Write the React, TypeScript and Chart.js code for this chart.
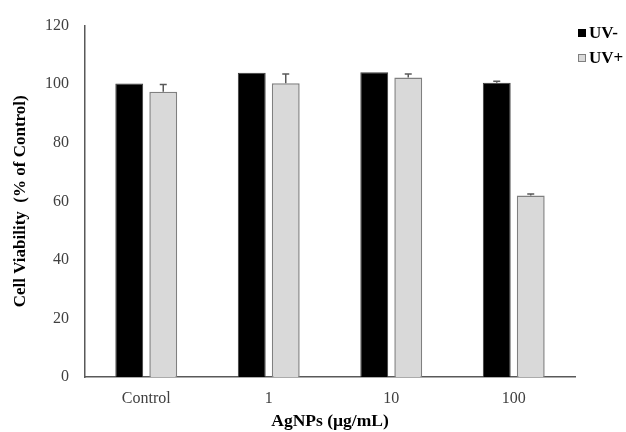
import React, { useEffect, useRef } from "react";
import { Chart, registerables } from "chart.js";

Chart.register(...registerables);

const categories = ["Control", "1", "10", "100"];
const uvMinus = [100.2, 103.9, 104.1, 100.5];
const uvMinusErr = [0, 0, 0, 0.5];
const uvPlus = [97.4, 100.3, 102.3, 62.0];
const uvPlusErr = [2.5, 3.2, 1.2, 0.5];
const yTicks = [0, 20, 40, 60, 80, 100, 120];

const errorBars = {
  id: "errorBars",
  afterDatasetsDraw(chart: any) {
    const ctx = chart.ctx;
    const y = chart.scales.y;
    chart.data.datasets.forEach((ds: any, di: number) => {
      const meta = chart.getDatasetMeta(di);
      const errs = ds.errors || [];
      meta.data.forEach((el: any, i: number) => {
        const e = errs[i];
        if (!e) return;
        const v = ds.data[i];
        const yTop = y.getPixelForValue(v + e);
        const yBase = y.getPixelForValue(v);
        ctx.save();
        ctx.strokeStyle = "#595959";
        ctx.lineWidth = 1.5;
        ctx.beginPath();
        ctx.moveTo(el.x, yBase);
        ctx.lineTo(el.x, yTop);
        ctx.moveTo(el.x - 3.5, yTop);
        ctx.lineTo(el.x + 3.5, yTop);
        ctx.stroke();
        ctx.restore();
      });
    });
  },
};

const customLegend = {
  id: "customLegend",
  afterDraw(chart: any) {
    const ctx = chart.ctx;
    const items = [
      { label: "UV-", fill: "#000000", stroke: "#000000", y: 33 },
      { label: "UV+", fill: "#d9d9d9", stroke: "#7f7f7f", y: 58 },
    ];
    ctx.save();
    ctx.font = "bold 17px 'Liberation Serif', 'Times New Roman', serif";
    ctx.textBaseline = "middle";
    items.forEach((it) => {
      ctx.fillStyle = it.fill;
      ctx.fillRect(578, it.y - 4, 8, 8);
      ctx.strokeStyle = it.stroke;
      ctx.lineWidth = 1;
      ctx.strokeRect(578.5, it.y - 3.5, 7, 7);
      ctx.fillStyle = "#000000";
      ctx.fillText(it.label, 589, it.y + 1);
    });
    ctx.restore();
  },
};

export default function App() {
  const ref = useRef<HTMLCanvasElement>(null);
  useEffect(() => {
    if (!ref.current) return;
    const serif = "'Liberation Serif', 'Times New Roman', serif";
    const chart = new Chart(ref.current, {
      type: "bar",
      data: {
        labels: categories,
        datasets: [
          {
            label: "UV-",
            data: uvMinus,
            errors: uvMinusErr,
            backgroundColor: "#000000",
            borderColor: "#3a3a3a",
            borderWidth: 1,
            categoryPercentage: 0.555,
            barPercentage: 0.82,
          } as any,
          {
            label: "UV+",
            data: uvPlus,
            errors: uvPlusErr,
            backgroundColor: "#d9d9d9",
            borderColor: "#808080",
            borderWidth: 1.5,
            categoryPercentage: 0.555,
            barPercentage: 0.82,
          } as any,
        ],
      },
      options: {
        animation: false,
        responsive: false,
        devicePixelRatio: 1,
        layout: { padding: { left: 0, right: 51, top: 22, bottom: 0 } },
        plugins: {
          legend: { display: false },
          tooltip: { enabled: false },
        },
        scales: {
          x: {
            grid: { display: false, drawTicks: false },
            border: { color: "#595959", width: 1.5 },
            ticks: {
              color: "#404040",
              font: { family: serif, size: 16 },
              padding: 12,
            },
            title: {
              display: true,
              text: "AgNPs (µg/mL)",
              color: "#000000",
              font: { family: serif, size: 17.5, weight: "bold" },
              padding: { top: 0, bottom: 0 },
            },
            afterFit: (s: any) => {
              s.height = 55;
            },
          },
          y: {
            min: 0,
            max: 120,
            afterBuildTicks: (s: any) => {
              s.ticks = yTicks.map((v) => ({ value: v }));
            },
            grid: { display: false, drawTicks: false },
            border: { color: "#595959", width: 1.5 },
            ticks: {
              color: "#404040",
              font: { family: serif, size: 16 },
              padding: 16,
            },
            title: {
              display: true,
              text: "Cell Viability  (% of Control)",
              color: "#000000",
              font: { family: serif, size: 17, weight: "bold" },
              padding: { top: 10, bottom: 0 },
            },
            afterFit: (s: any) => {
              s.width = 85;
            },
          },
        },
      } as any,
      plugins: [errorBars, customLegend],
    });
    return () => chart.destroy();
  }, []);
  return (
    <div style={{ position: "fixed", left: 0, top: 0, width: 626, height: 432, background: "#fff" }}>
      <canvas ref={ref} width={626} height={432} />
    </div>
  );
}
